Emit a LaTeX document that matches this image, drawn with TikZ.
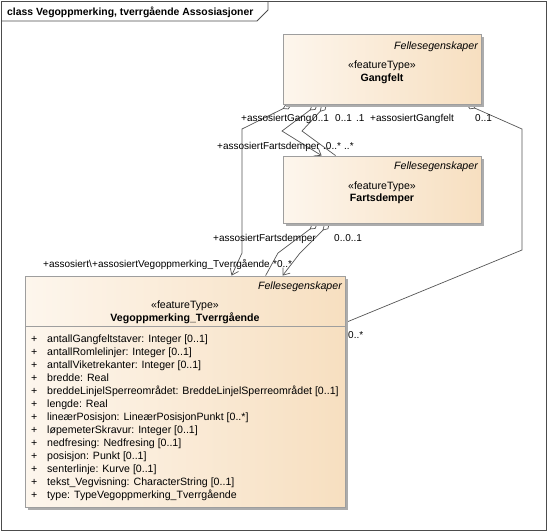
\documentclass[tikz,border=0pt]{standalone}
\usepackage{fontspec}
\setmainfont{Liberation Sans}
\usetikzlibrary{arrows.meta, shadows, backgrounds}

\definecolor{boksL}{RGB}{253,246,237}
\definecolor{boksR}{RGB}{247,223,192}
\definecolor{kant}{RGB}{158,158,158}
\definecolor{skygge}{RGB}{172,172,172}
\definecolor{linje}{RGB}{85,85,85}

\begin{document}
\begin{tikzpicture}[x=1pt, y=-1pt,
  every node/.style={inner sep=0pt, font=\fontsize{10.6}{12}\selectfont},
  klasse/.style={draw=kant, line width=0.8pt, left color=boksL, right color=boksR,
    drop shadow={shadow xshift=3pt, shadow yshift=-3pt, fill=skygge, opacity=1}},
  fs/.style={anchor=base east, font=\fontsize{10.6}{12}\selectfont\itshape},
  ster/.style={anchor=base},
  navn/.style={anchor=base, font=\fontsize{10.6}{12}\selectfont\bfseries},
  attr/.style={anchor=base west},
  lbl/.style={anchor=base west, font=\fontsize{10}{12}\selectfont},
  forb/.style={draw=linje, line width=0.7pt, arrows={Diamond[fill=white,length=10pt,width=6pt]-}},
  forbpil/.style={forb, arrows={Diamond[fill=white,length=10pt,width=6pt]-Straight Barb[length=6pt,width=9pt]}}]
\useasboundingbox (0,0) rectangle (547,531);
\draw[black!70, line width=0.8pt] (1,1) rectangle (546,530);
\draw[black!70, line width=0.8pt] (1,21) -- (257,21) -- (268,10) -- (268,1);
\node[anchor=base west, font=\fontsize{10.4}{12}\selectfont\bfseries] (tittel) at (7,15) {class Vegoppmerking, tverrgående Assosiasjoner};

% klasser
\node[klasse, minimum width=198pt, minimum height=70pt] (gangfelt) at (382,69) {};
\node[fs] (gangfelt-fs) at (478,49) {Fellesegenskaper};
\node[ster] (gangfelt-st) at (382,68) {«featureType»};
\node[navn] (gangfelt-navn) at (382,81) {Gangfelt};

\node[klasse, minimum width=198pt, minimum height=67pt] (fartsdemper) at (382,189.5) {};
\node[fs] (fartsdemper-fs) at (478,169) {Fellesegenskaper};
\node[ster] (fartsdemper-st) at (382,189) {«featureType»};
\node[navn] (fartsdemper-navn) at (382,201) {Fartsdemper};

\node[klasse, minimum width=320pt, minimum height=231pt] (vegoppm) at (185,391.5) {};
\node[fs] (vegoppm-fs) at (342,289) {Fellesegenskaper};
\node[ster] (vegoppm-st) at (185,308) {«featureType»};
\node[navn] (vegoppm-navn) at (185,321) {Vegoppmerking\_Tverrgående};
\draw[kant, line width=0.8pt] (25,326) -- (345,326);
\foreach \a [count=\i] in {antallGangfeltstaver: Integer [0..1], antallRomlelinjer: Integer [0..1],
  antallViketrekanter: Integer [0..1], bredde: Real,
  breddeLinjelSperreområdet: BreddeLinjelSperreområdet [0..1], lengde: Real,
  lineærPosisjon: LineærPosisjonPunkt [0..*], løpemeterSkravur: Integer [0..1],
  nedfresing: Nedfresing [0..1], posisjon: Punkt [0..1], senterlinje: Kurve [0..1],
  tekst\_Vegvisning: CharacterString [0..1], type: TypeVegoppmerking\_Tverrgående}
{
  \node[attr] (pluss-\i) at (31,{342+13*(\i-1)}) {+};
  \node[attr] (attr-\i) at (47,{342+13*(\i-1)}) {\a};
}

% forbindelser
\coordinate (k1) at (242,129);
\coordinate (k2) at (242,253);
\coordinate (k3) at (282,131);
\coordinate (k4) at (302,131);
\coordinate (k5) at (278,253);
\coordinate (k6) at (300,253);
\coordinate (k7) at (522,129);
\coordinate (k8) at (522,250);
\begin{scope}[on background layer]
\draw[forbpil] ([xshift=9pt]gangfelt.south west) -- (k1) -- (k2) -- ([xshift=207pt]vegoppm.north west);
\draw[forbpil] ([xshift=35pt]gangfelt.south west) -- (k3) -- ([xshift=39pt]fartsdemper.north west);
\draw[forb] ([xshift=44pt]gangfelt.south west) -- (k4) -- ([xshift=53pt]fartsdemper.north west);
\draw[forb] ([xshift=35pt]fartsdemper.south west) -- (k5) -- ([xshift=241pt]vegoppm.north west);
\draw[forbpil] ([xshift=47pt]fartsdemper.south west) -- (k6) -- ([xshift=258pt]vegoppm.north west);
\draw[forb] ([xshift=-15pt]gangfelt.south east) -- (k7) -- (k8) -- ([yshift=-47pt]vegoppm.north east);
\end{scope}

% roller og multiplisitet
\node[lbl] (r1) at (241,121) {+assosiertGang};
\node[lbl] (m1) at (312,121) {0..1};
\node[lbl] (m2) at (335,121) {0..1};
\node[lbl] (m3) at (356,121) {.1};
\node[lbl] (r2) at (370,121) {+assosiertGangfelt};
\node[lbl] (m4) at (475,121) {0..1};
\node[lbl] (r3) at (217,149) {+assosiertFartsdemper};
\node[lbl] (m5) at (323,149) {.0..*};
\node[lbl] (m6) at (344,149) {..*};
\node[lbl] (r4) at (213,241) {+assosiertFartsdemper};
\node[lbl] (m7) at (334,241) {0..0..1};
\node[lbl] (r5) at (43,267) {+assosiert\textbackslash};
\node[lbl] (r6) at (92,267) {+assosiertVegoppmerking\_Tverrgående};
\node[lbl] (m8) at (273,267) {*0..*};
\node[lbl] (m9) at (348,338) {0..*};
\end{tikzpicture}
\end{document}
